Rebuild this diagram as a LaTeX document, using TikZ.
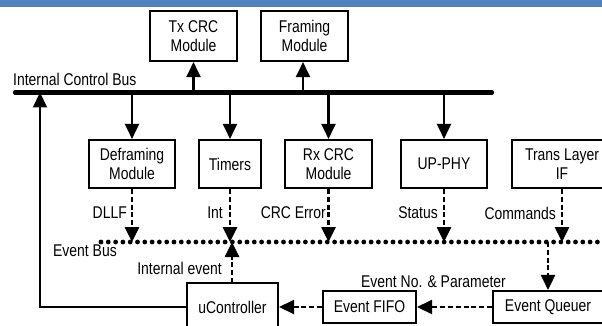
\documentclass[tikz,border=0pt]{standalone}
\usepackage{fontspec}
\setmainfont{Liberation Sans}[FakeStretch=0.82]
\usetikzlibrary{arrows.meta}
\definecolor{barblue}{HTML}{4F81BD}
\tikzset{
  box/.style={draw, line width=2.1pt, inner sep=0pt, align=center, font=\fontsize{17}{18.5}\selectfont},
  lbl/.style={inner sep=0pt, font=\fontsize{17}{18.5}\selectfont},
  solidarrow/.style={line width=2.1pt, -{Triangle[length=15pt,width=14pt]}},
  dotarrow/.style={line width=2.6pt, dash pattern=on 5pt off 2.8pt, -{Triangle[length=15pt,width=14pt]}},
  busline/.style={line width=4.2pt, line cap=round},
  eventbus/.style={line width=4.8pt, line cap=round, dash pattern=on 0pt off 7.3pt},
}
\begin{document}
\begin{tikzpicture}[x=1pt,y=-1pt]
\useasboundingbox (0,0) rectangle (602,326);
\clip (0,0) rectangle (602,326);
\fill[white] (0,0) rectangle (602,326);
\fill[barblue] (0,0) rectangle (602,7);

% top boxes
\node[box, minimum width=87pt, minimum height=50pt] (txcrc) at (193.5,36) {Tx CRC\\Module};
\node[box, minimum width=87pt, minimum height=50pt] (framing) at (304.5,36) {Framing\\Module};

% internal control bus
\coordinate (busL) at (15,92.5);
\coordinate (busR) at (492,92.5);
\draw[busline] (busL) -- (busR);
\node[lbl, anchor=south west] (icb) at (13,86) {Internal Control Bus};

% middle boxes
\node[box, minimum width=86pt, minimum height=48pt] (defr) at (132,164) {Deframing\\Module};
\node[box, minimum width=62pt, minimum height=48pt] (timers) at (230,164) {Timers};
\node[box, minimum width=87pt, minimum height=48pt] (rxcrc) at (328.5,164) {Rx CRC\\Module};
\node[box, minimum width=86pt, minimum height=48pt] (upphy) at (444,164) {UP-PHY};
\node[box, minimum width=100pt, minimum height=48pt] (trans) at (562,164) {Trans Layer\\IF};

% bottom boxes
\node[box, minimum width=91pt, minimum height=48pt] (uctrl) at (232.5,307) {uController};
\node[box, minimum width=93pt, minimum height=32pt] (fifo) at (369.5,307) {Event FIFO};
\node[box, minimum width=110pt, minimum height=32pt] (queuer) at (548,307) {Event Queuer};

% bus taps
\coordinate (tTx) at (193.5,92.5);
\coordinate (tFr) at (303,92.5);
\coordinate (tDe) at (132,92.5);
\coordinate (tTi) at (230,92.5);
\coordinate (tRx) at (328.5,92.5);
\coordinate (tUp) at (444,92.5);
\draw[solidarrow] (tTx) -- (txcrc.south);
\draw[solidarrow] (tFr) -- (framing.south -| tFr);
\draw[solidarrow] (tDe) -- (defr.north);
\draw[solidarrow] (tTi) -- (timers.north);
\draw[solidarrow] (tRx) -- (rxcrc.north);
\draw[solidarrow] (tUp) -- (upphy.north);

% event bus
\coordinate (ebL) at (101,242);
\coordinate (ebR) at (605,242);
\draw[eventbus] (ebL) -- (ebR);
\node[lbl, anchor=west] (ebl) at (53,251) {Event Bus};

% event arrows
\coordinate (eDe) at (132,242);
\coordinate (eTi) at (230,242);
\coordinate (eRx) at (328.5,242);
\coordinate (eUp) at (444,242);
\coordinate (eTr) at (562,242);
\draw[dotarrow] (defr.south) -- (eDe);
\draw[dotarrow] (timers.south) -- (eTi);
\draw[dotarrow] (rxcrc.south) -- (eRx);
\draw[dotarrow] (upphy.south) -- (eUp);
\draw[dotarrow] (trans.south) -- (eTr);
\node[lbl, anchor=east] (ldllf) at (127,213) {DLLF};
\node[lbl, anchor=east] (lint) at (223,213) {Int};
\node[lbl, anchor=east] (lcrc) at (326,213) {CRC Error};
\node[lbl, anchor=east] (lstat) at (438,213) {Status};
\node[lbl, anchor=east] (lcmd) at (556,213) {Commands};

% internal event
\coordinate (ucTop) at (232,283);
\coordinate (eIn) at (232,242);
\draw[dotarrow] (ucTop) -- (eIn);
\node[lbl, anchor=east] (lie) at (222,268) {Internal event};

% event bus to queuer
\coordinate (eQ) at (548,242);
\draw[dotarrow] (eQ) -- (queuer.north);

% horizontal flow
\draw[dotarrow] (queuer.west) -- (fifo.east);
\draw[dotarrow] (fifo.west) -- (uctrl.east);
\node[lbl, anchor=center] (lenp) at (433.5,282) {Event No. \& Parameter};

% uController back to control bus
\coordinate (ret) at (40,307);
\coordinate (retTop) at (40,92.5);
\draw[solidarrow] (uctrl.west) -- (ret) -- (retTop);
\end{tikzpicture}
\end{document}
